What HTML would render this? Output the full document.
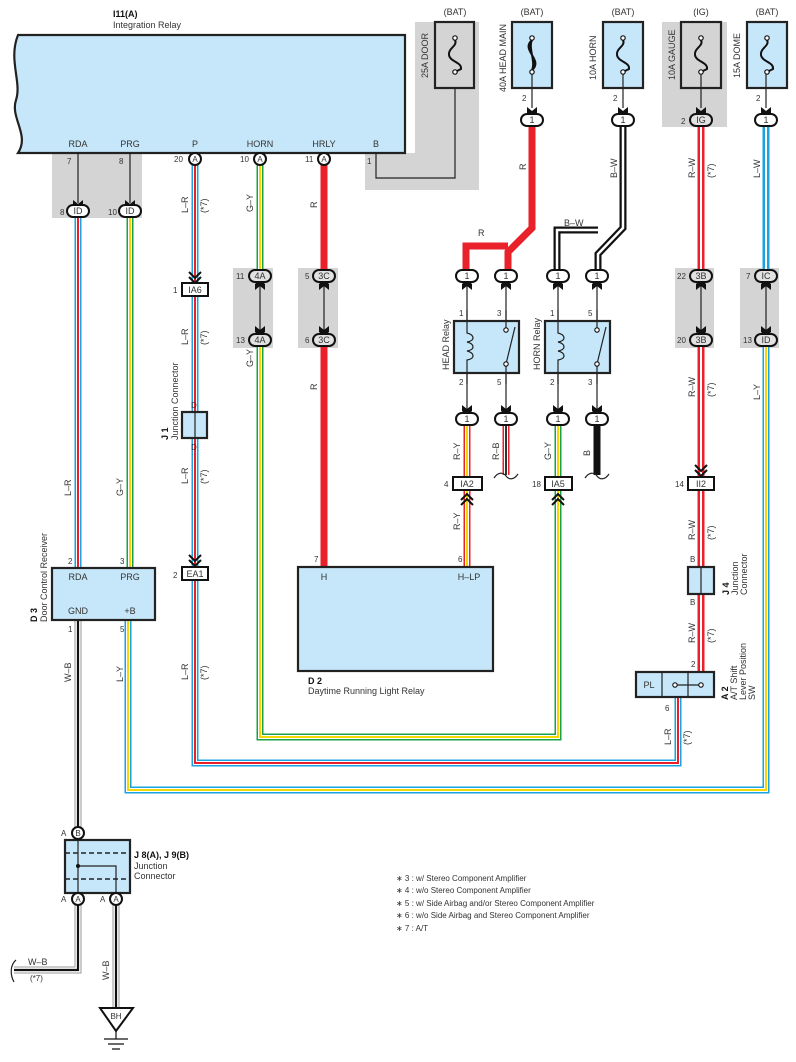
<!DOCTYPE html>
<html><head><meta charset="utf-8">
<style>
html,body{margin:0;padding:0;background:#fff;}
svg{display:block;}
text{font-family:"Liberation Sans",sans-serif;font-size:9px;fill:#333;}
.b{font-weight:bold;fill:#111;}
.s{font-size:8px;}
.box{fill:#c6e7f9;stroke:#222;stroke-width:2.2;}
.gbox{fill:#d4d4d4;stroke:#222;stroke-width:2.2;}
.gray{fill:#d4d4d4;}
.ov{fill:#fff;stroke:#111;stroke-width:2;}
.ovg{fill:#e2e2e2;stroke:#111;stroke-width:2;}
.thin{fill:none;stroke:#222;stroke-width:1.2;}
.f{fill:none;stroke-linejoin:miter;stroke-linecap:butt;}
</style></head><body>
<svg width="796" height="1062" viewBox="0 0 796 1062" xmlns="http://www.w3.org/2000/svg">
<defs>
<path id="p_rda" d="M78,218 V568"/>
<path id="p_prg" d="M130,218 V568"/>
<path id="p_p1" d="M195,165 V283"/>
<path id="p_p2" d="M195,296 V412"/>
<path id="p_p3" d="M195,438 V567"/>
<path id="p_p4" d="M195,580 V763 H678 V698"/>
<path id="p_h1" d="M260,165 V270"/>
<path id="p_h2" d="M260,346 V737 H558 V490"/>
<path id="p_gy2" d="M558,425 V477"/>
<path id="p_ry1" d="M467,425 V477"/>
<path id="p_ry2" d="M467,490 V567"/>
<path id="p_rb" d="M506,425 V475"/>
<path id="p_rw" d="M701,127 V270 M701,346 V477 M701,490 V567 M701,594 V671"/>
<path id="p_lw" d="M766,127 V270"/>
<path id="p_ly" d="M766,346 V790 H128 V620"/>
<path id="p_bw" d="M623,127 V228 L598,254 V270 M598,230 H557 V270"/>
<path id="p_wb" d="M78,620 V827 M78,905 V970 H14 M116,905 V1008"/>
</defs>

<rect class="gray" x="52" y="153" width="90" height="65"/>
<rect class="gray" x="415" y="22" width="64" height="168"/>
<rect class="gray" x="365" y="153" width="114" height="37"/>
<rect class="gray" x="662" y="22" width="65" height="105"/>
<rect class="gray" x="233" y="268" width="40" height="80"/>
<rect class="gray" x="298" y="268" width="40" height="80"/>
<rect class="gray" x="675" y="268" width="39" height="80"/>
<rect class="gray" x="740" y="268" width="39" height="80"/>

<text x="113" y="17" class="b">I11(A)</text>
<text x="113" y="28">Integration Relay</text>
<path class="box" d="M18,35 H405 V153 H18 C30,135 10,118 16,100 C22,82 8,60 18,35 Z"/>
<text x="78" y="147" text-anchor="middle">RDA</text>
<text x="130" y="147" text-anchor="middle">PRG</text>
<text x="195" y="147" text-anchor="middle">P</text>
<text x="260" y="147" text-anchor="middle">HORN</text>
<text x="324" y="147" text-anchor="middle">HRLY</text>
<text x="376" y="147" text-anchor="middle">B</text>

<path class="thin" d="M78,153 V203 M130,153 V203"/>
<path class="thin" d="M376,153 V178 H455 V72"/>
<text x="67" y="164" class="s">7</text>
<text x="119" y="164" class="s">8</text>
<text x="367" y="164" class="s">1</text>

<g class="f">
<use href="#p_rda" stroke="#1aa3e0" stroke-width="7"/><use href="#p_rda" stroke="#fff" stroke-width="4"/><use href="#p_rda" stroke="#e8212a" stroke-width="2"/>
<use href="#p_p1" stroke="#1aa3e0" stroke-width="7"/><use href="#p_p1" stroke="#fff" stroke-width="4"/><use href="#p_p1" stroke="#e8212a" stroke-width="2"/>
<use href="#p_p2" stroke="#1aa3e0" stroke-width="7"/><use href="#p_p2" stroke="#fff" stroke-width="4"/><use href="#p_p2" stroke="#e8212a" stroke-width="2"/>
<use href="#p_p3" stroke="#1aa3e0" stroke-width="7"/><use href="#p_p3" stroke="#fff" stroke-width="4"/><use href="#p_p3" stroke="#e8212a" stroke-width="2"/>
<use href="#p_p4" stroke="#1aa3e0" stroke-width="7"/><use href="#p_p4" stroke="#fff" stroke-width="4"/><use href="#p_p4" stroke="#e8212a" stroke-width="2"/>
<use href="#p_prg" stroke="#1aa04a" stroke-width="7"/><use href="#p_prg" stroke="#fff" stroke-width="4"/><use href="#p_prg" stroke="#f5d800" stroke-width="2"/>
<use href="#p_h1" stroke="#1aa04a" stroke-width="7"/><use href="#p_h1" stroke="#fff" stroke-width="4"/><use href="#p_h1" stroke="#f5d800" stroke-width="2"/>
<use href="#p_h2" stroke="#1aa04a" stroke-width="7"/><use href="#p_h2" stroke="#fff" stroke-width="4"/><use href="#p_h2" stroke="#f5d800" stroke-width="2"/>
<use href="#p_gy2" stroke="#1aa04a" stroke-width="7"/><use href="#p_gy2" stroke="#fff" stroke-width="4"/><use href="#p_gy2" stroke="#f5d800" stroke-width="2"/>
<use href="#p_ry1" stroke="#e8212a" stroke-width="7"/><use href="#p_ry1" stroke="#fff" stroke-width="4"/><use href="#p_ry1" stroke="#f5d800" stroke-width="2"/>
<use href="#p_ry2" stroke="#e8212a" stroke-width="7"/><use href="#p_ry2" stroke="#fff" stroke-width="4"/><use href="#p_ry2" stroke="#f5d800" stroke-width="2"/>
<use href="#p_rb" stroke="#e8212a" stroke-width="7"/><use href="#p_rb" stroke="#fff" stroke-width="4"/><use href="#p_rb" stroke="#333" stroke-width="2"/>
<use href="#p_rw" stroke="#e8212a" stroke-width="7"/><use href="#p_rw" stroke="#fff" stroke-width="2"/>
<use href="#p_lw" stroke="#1aa3e0" stroke-width="7"/><use href="#p_lw" stroke="#fff" stroke-width="2"/>
<use href="#p_ly" stroke="#1aa3e0" stroke-width="7"/><use href="#p_ly" stroke="#fff" stroke-width="4"/><use href="#p_ly" stroke="#f5d800" stroke-width="2"/>
<use href="#p_bw" stroke="#111" stroke-width="7"/><use href="#p_bw" stroke="#fff" stroke-width="2.5"/>
<use href="#p_wb" stroke="#999" stroke-width="7"/><use href="#p_wb" stroke="#fff" stroke-width="5"/><use href="#p_wb" stroke="#111" stroke-width="2.2"/>
<path d="M324,165 V270 M324,346 V568" stroke="#e8212a" stroke-width="7"/>
<path d="M532,127 V228 L508,252 V270 M508,246 H466 V270" stroke="#e8212a" stroke-width="7"/>
<path d="M597,425 V475" stroke="#111" stroke-width="7"/>
</g>

<path class="thin" d="M494,478 C498,472 503,472 506,476 C509,480 514,480 518,474" stroke-width="1.6"/>
<path class="thin" d="M585,478 C589,472 594,472 597,476 C600,480 605,480 609,474" stroke-width="1.6"/>
<path class="thin" d="M16,960 C10,965 10,975 14,982" stroke-width="1.6"/>

<g>
<text x="455" y="15" text-anchor="middle">(BAT)</text>
<text x="532" y="15" text-anchor="middle">(BAT)</text>
<text x="623" y="15" text-anchor="middle">(BAT)</text>
<text x="701" y="15" text-anchor="middle">(IG)</text>
<text x="767" y="15" text-anchor="middle">(BAT)</text>
<rect class="gbox" x="435" y="22" width="39" height="66"/>
<rect class="box" x="512" y="22" width="40" height="66"/>
<rect class="box" x="603" y="22" width="40" height="66"/>
<rect class="gbox" x="681" y="22" width="40" height="66"/>
<rect class="box" x="747" y="22" width="40" height="66"/>
<g fill="none" stroke="#111" stroke-width="2">
<path d="M455,40 C458,46 448,48 449,55 C450,62 462,62 461,69 L455,72"/>
<path d="M532,40 C524,48 540,62 532,70 M532,40 C528,48 536,62 532,70 M532,40 C520,50 544,60 532,70"/>
<path d="M623,40 C626,46 616,48 617,55 C618,62 630,62 629,69 L623,72"/>
<path d="M701,40 C704,46 694,48 695,55 C696,62 708,62 707,69 L701,72"/>
<path d="M767,40 C770,46 760,48 761,55 C762,62 774,62 773,69 L767,72"/>
</g>
<g fill="#fff" stroke="#111" stroke-width="1.2">
<circle cx="455" cy="38" r="2.2"/><circle cx="455" cy="72" r="2.2"/>
<circle cx="532" cy="38" r="2.2"/><circle cx="532" cy="72" r="2.2"/>
<circle cx="623" cy="38" r="2.2"/><circle cx="623" cy="72" r="2.2"/>
<circle cx="701" cy="38" r="2.2"/><circle cx="701" cy="72" r="2.2"/>
<circle cx="767" cy="38" r="2.2"/><circle cx="767" cy="72" r="2.2"/>
</g>
<path class="thin" d="M532,74 V108 M623,74 V108 M701,74 V108 M766,74 V108"/>
<text transform="translate(428,78) rotate(-90)">25A DOOR</text>
<text transform="translate(506,92) rotate(-90)">40A HEAD MAIN</text>
<text transform="translate(596,80) rotate(-90)">10A HORN</text>
<text transform="translate(675,80) rotate(-90)">10A GAUGE</text>
<text transform="translate(740,78) rotate(-90)">15A DOME</text>
<text x="522" y="101" class="s">2</text>
<text x="613" y="101" class="s">2</text>
<text x="756" y="101" class="s">2</text>
<text x="681" y="124" class="s">2</text>
</g>

<g fill="#111">
<path d="M73,200 L78,204 L83,200 L83,206 L78,211 L73,206Z"/>
<path d="M125,200 L130,204 L135,200 L135,206 L130,211 L125,206Z"/>
<path d="M527,107 L532,111 L537,107 L537,113 L532,118 L527,113Z"/>
<path d="M618,107 L623,111 L628,107 L628,113 L623,118 L618,113Z"/>
<path d="M696,107 L701,111 L706,107 L706,113 L701,118 L696,113Z"/>
<path d="M761,107 L766,111 L771,107 L771,113 L766,118 L761,113Z"/>
</g>

<g>
<rect class="ov" x="67" y="205" width="22" height="12" rx="6"/><text x="78" y="214" text-anchor="middle">ID</text>
<rect class="ov" x="119" y="205" width="22" height="12" rx="6"/><text x="130" y="214" text-anchor="middle">ID</text>
<text x="60" y="215" class="s">8</text><text x="108" y="215" class="s">10</text>
<rect class="ov" x="521" y="114" width="22" height="12" rx="6"/><text x="532" y="123" text-anchor="middle">1</text>
<rect class="ov" x="612" y="114" width="22" height="12" rx="6"/><text x="623" y="123" text-anchor="middle">1</text>
<rect class="ovg" x="690" y="114" width="22" height="12" rx="6"/><text x="701" y="123" text-anchor="middle">IG</text>
<rect class="ov" x="755" y="114" width="22" height="12" rx="6"/><text x="766" y="123" text-anchor="middle">1</text>
</g>

<circle class="ov" cx="195" cy="159" r="6"/><text x="195" y="162" text-anchor="middle" class="s">A</text>
<circle class="ov" cx="260" cy="159" r="6"/><text x="260" y="162" text-anchor="middle" class="s">A</text>
<circle class="ov" cx="324" cy="159" r="6"/><text x="324" y="162" text-anchor="middle" class="s">A</text>
<text x="174" y="162" class="s">20</text><text x="240" y="162" class="s">10</text><text x="305" y="162" class="s">11</text>

<path d="M189,272 L195,278 L201,272 M189,277 L195,283 L201,277" fill="none" stroke="#111" stroke-width="2"/>
<rect x="182" y="283" width="26" height="13" fill="#fff" stroke="#111" stroke-width="2"/>
<text x="195" y="293" text-anchor="middle">IA6</text><text x="173" y="293" class="s">1</text>

<g>
<path class="thin" d="M260,282 V334 M324,282 V334 M701,282 V334 M766,282 V334"/>
<g fill="#111">
<path d="M255,290 L260,286 L265,290 L265,284 L260,279 L255,284Z"/><path d="M255,326 L260,330 L265,326 L265,332 L260,337 L255,332Z"/>
<path d="M319,290 L324,286 L329,290 L329,284 L324,279 L319,284Z"/><path d="M319,326 L324,330 L329,326 L329,332 L324,337 L319,332Z"/>
<path d="M696,290 L701,286 L706,290 L706,284 L701,279 L696,284Z"/><path d="M696,326 L701,330 L706,326 L706,332 L701,337 L696,332Z"/>
<path d="M761,290 L766,286 L771,290 L771,284 L766,279 L761,284Z"/><path d="M761,326 L766,330 L771,326 L771,332 L766,337 L761,332Z"/>
</g>
<rect class="ovg" x="249" y="270" width="22" height="12" rx="6"/><text x="260" y="279" text-anchor="middle">4A</text>
<rect class="ovg" x="249" y="334" width="22" height="12" rx="6"/><text x="260" y="343" text-anchor="middle">4A</text>
<rect class="ovg" x="313" y="270" width="22" height="12" rx="6"/><text x="324" y="279" text-anchor="middle">3C</text>
<rect class="ovg" x="313" y="334" width="22" height="12" rx="6"/><text x="324" y="343" text-anchor="middle">3C</text>
<rect class="ovg" x="690" y="270" width="22" height="12" rx="6"/><text x="701" y="279" text-anchor="middle">3B</text>
<rect class="ovg" x="690" y="334" width="22" height="12" rx="6"/><text x="701" y="343" text-anchor="middle">3B</text>
<rect class="ovg" x="755" y="270" width="22" height="12" rx="6"/><text x="766" y="279" text-anchor="middle">IC</text>
<rect class="ovg" x="755" y="334" width="22" height="12" rx="6"/><text x="766" y="343" text-anchor="middle">ID</text>
<text x="236" y="279" class="s">11</text><text x="236" y="343" class="s">13</text>
<text x="305" y="279" class="s">5</text><text x="305" y="343" class="s">6</text>
<text x="677" y="279" class="s">22</text><text x="677" y="343" class="s">20</text>
<text x="746" y="279" class="s">7</text><text x="743" y="343" class="s">13</text>
</g>

<g>
<path class="thin" d="M467,282 V413 M506,282 V413 M558,282 V413 M597,282 V413"/>
<rect class="box" x="454" y="321" width="65" height="52"/>
<rect class="box" x="545" y="321" width="65" height="52"/>
<path class="thin" d="M467,310 V333 C475,335 475,341 467,342 C475,344 475,350 467,351 C475,353 475,359 467,360 V384"/>
<path class="thin" d="M558,310 V333 C566,335 566,341 558,342 C566,344 566,350 558,351 C566,353 566,359 558,360 V384"/>
<path class="thin" d="M506,310 V329 M506,365 V384 M506,364 L515,327 M597,310 V329 M597,365 V384 M597,364 L606,327"/>
<g fill="#fff" stroke="#111" stroke-width="1.1"><circle cx="506" cy="330" r="2.2"/><circle cx="506" cy="364" r="2.2"/><circle cx="597" cy="330" r="2.2"/><circle cx="597" cy="364" r="2.2"/></g>
<text transform="translate(449,370) rotate(-90)">HEAD Relay</text>
<text transform="translate(540,370) rotate(-90)">HORN Relay</text>
<text x="459" y="316" class="s">1</text><text x="497" y="316" class="s">3</text><text x="550" y="316" class="s">1</text><text x="588" y="316" class="s">5</text>
<text x="459" y="385" class="s">2</text><text x="497" y="385" class="s">5</text><text x="550" y="385" class="s">2</text><text x="588" y="385" class="s">3</text>
<g fill="#111">
<path d="M462,290 L467,286 L472,290 L472,284 L467,279 L462,284Z"/><path d="M501,290 L506,286 L511,290 L511,284 L506,279 L501,284Z"/>
<path d="M553,290 L558,286 L563,290 L563,284 L558,279 L553,284Z"/><path d="M592,290 L597,286 L602,290 L602,284 L597,279 L592,284Z"/>
<path d="M462,405 L467,409 L472,405 L472,411 L467,416 L462,411Z"/><path d="M501,405 L506,409 L511,405 L511,411 L506,416 L501,411Z"/>
<path d="M553,405 L558,409 L563,405 L563,411 L558,416 L553,411Z"/><path d="M592,405 L597,409 L602,405 L602,411 L597,416 L592,411Z"/>
</g>
<rect class="ov" x="456" y="270" width="22" height="12" rx="6"/><text x="467" y="279" text-anchor="middle">1</text>
<rect class="ov" x="495" y="270" width="22" height="12" rx="6"/><text x="506" y="279" text-anchor="middle">1</text>
<rect class="ov" x="547" y="270" width="22" height="12" rx="6"/><text x="558" y="279" text-anchor="middle">1</text>
<rect class="ov" x="586" y="270" width="22" height="12" rx="6"/><text x="597" y="279" text-anchor="middle">1</text>
<rect class="ov" x="456" y="413" width="22" height="12" rx="6"/><text x="467" y="422" text-anchor="middle">1</text>
<rect class="ov" x="495" y="413" width="22" height="12" rx="6"/><text x="506" y="422" text-anchor="middle">1</text>
<rect class="ov" x="547" y="413" width="22" height="12" rx="6"/><text x="558" y="422" text-anchor="middle">1</text>
<rect class="ov" x="586" y="413" width="22" height="12" rx="6"/><text x="597" y="422" text-anchor="middle">1</text>
</g>

<rect x="453" y="477" width="29" height="13" fill="#fff" stroke="#111" stroke-width="2"/><text x="467" y="487" text-anchor="middle">IA2</text><text x="444" y="487" class="s">4</text>
<rect x="545" y="477" width="27" height="13" fill="#fff" stroke="#111" stroke-width="2"/><text x="558" y="487" text-anchor="middle">IA5</text><text x="532" y="487" class="s">18</text>
<path d="M461,500 L467,494 L473,500 M461,505 L467,499 L473,505" fill="none" stroke="#111" stroke-width="2"/>
<path d="M552,500 L558,494 L564,500 M552,505 L558,499 L564,505" fill="none" stroke="#111" stroke-width="2"/>
<rect x="688" y="477" width="26" height="13" fill="#fff" stroke="#111" stroke-width="2"/><text x="701" y="487" text-anchor="middle">II2</text><text x="675" y="487" class="s">14</text>
<path d="M695,465 L701,471 L707,465 M695,470 L701,476 L707,470" fill="none" stroke="#111" stroke-width="2"/>

<rect class="box" x="182" y="412" width="25" height="26"/>
<path class="thin" d="M195,412 V438"/>
<text x="191" y="408" class="s">D</text><text x="191" y="450" class="s">D</text>
<text transform="translate(168,440) rotate(-90)" class="b">J 1</text>
<text transform="translate(178,440) rotate(-90)">Junction Connector</text>

<path d="M189,555 L195,561 L201,555 M189,560 L195,566 L201,560" fill="none" stroke="#111" stroke-width="2"/>
<rect x="182" y="567" width="26" height="13" fill="#fff" stroke="#111" stroke-width="2"/><text x="195" y="577" text-anchor="middle">EA1</text><text x="173" y="578" class="s">2</text>

<rect class="box" x="52" y="568" width="103" height="52"/>
<text x="78" y="580" text-anchor="middle">RDA</text><text x="130" y="580" text-anchor="middle">PRG</text>
<text x="78" y="614" text-anchor="middle">GND</text><text x="130" y="614" text-anchor="middle">+B</text>
<text x="68" y="564" class="s">2</text><text x="120" y="564" class="s">3</text>
<text x="68" y="632" class="s">1</text><text x="120" y="632" class="s">5</text>
<text transform="translate(37,622) rotate(-90)" class="b">D 3</text>
<text transform="translate(47,622) rotate(-90)">Door Control Receiver</text>

<rect class="box" x="298" y="567" width="195" height="104"/>
<text x="324" y="580" text-anchor="middle">H</text><text x="469" y="580" text-anchor="middle">H–LP</text>
<text x="314" y="562" class="s">7</text><text x="458" y="562" class="s">6</text>
<text x="308" y="684" class="b">D 2</text>
<text x="308" y="694">Daytime Running Light Relay</text>

<rect class="box" x="688" y="567" width="26" height="27"/>
<path class="thin" d="M701,567 V594"/>
<text x="690" y="562" class="s">B</text><text x="690" y="605" class="s">B</text>
<text transform="translate(729,595) rotate(-90)" class="b">J 4</text>
<text transform="translate(738,595) rotate(-90)">Junction</text>
<text transform="translate(747,595) rotate(-90)">Connector</text>

<rect class="box" x="636" y="672" width="78" height="25"/>
<path class="thin" d="M662,672 V697 M688,672 V697 M675,685 H701"/>
<g fill="#fff" stroke="#111" stroke-width="1.1"><circle cx="675" cy="685" r="2.2"/><circle cx="701" cy="685" r="2.2"/></g>
<text x="649" y="688" text-anchor="middle">PL</text>
<text x="691" y="667" class="s">2</text><text x="665" y="711" class="s">6</text>
<text transform="translate(728,700) rotate(-90)" class="b">A 2</text>
<text transform="translate(737,700) rotate(-90)">A/T Shift</text>
<text transform="translate(746,700) rotate(-90)">Lever Position</text>
<text transform="translate(755,700) rotate(-90)">SW</text>

<rect class="box" x="65" y="840" width="65" height="53"/>
<path d="M65,853 H130 M65,879 H130" stroke="#222" stroke-width="1.5" stroke-dasharray="5,3"/>
<path class="thin" d="M78,840 V893 M78,866 H116 V893"/>
<circle cx="78" cy="866" r="2" fill="#111"/>
<circle class="ov" cx="78" cy="833" r="6"/><text x="78" y="836" text-anchor="middle" class="s">B</text>
<circle class="ov" cx="78" cy="899" r="6"/><text x="78" y="902" text-anchor="middle" class="s">A</text>
<circle class="ov" cx="116" cy="899" r="6"/><text x="116" y="902" text-anchor="middle" class="s">A</text>
<text x="61" y="836" class="s">A</text><text x="61" y="902" class="s">A</text><text x="100" y="902" class="s">A</text>
<text x="134" y="858" class="b">J 8(A), J 9(B)</text>
<text x="134" y="869">Junction</text>
<text x="134" y="879">Connector</text>

<path d="M100,1008 H133 L116,1031 Z" fill="#fff" stroke="#111" stroke-width="2"/>
<text x="116" y="1019" text-anchor="middle" class="s">BH</text>
<path d="M116,1031 V1039 M104,1039 H128 M108,1044 H124 M112,1049 H120" stroke="#111" stroke-width="1.2"/>

<g>
<text transform="translate(71,496) rotate(-90)">L–R</text>
<text transform="translate(123,496) rotate(-90)">G–Y</text>
<text transform="translate(188,213) rotate(-90)">L–R</text>
<text transform="translate(207,213) rotate(-90)">(*7)</text>
<text transform="translate(188,345) rotate(-90)">L–R</text>
<text transform="translate(207,345) rotate(-90)">(*7)</text>
<text transform="translate(188,484) rotate(-90)">L–R</text>
<text transform="translate(207,484) rotate(-90)">(*7)</text>
<text transform="translate(188,680) rotate(-90)">L–R</text>
<text transform="translate(207,680) rotate(-90)">(*7)</text>
<text transform="translate(253,212) rotate(-90)">G–Y</text>
<text transform="translate(253,367) rotate(-90)">G–Y</text>
<text transform="translate(317,208) rotate(-90)">R</text>
<text transform="translate(317,390) rotate(-90)">R</text>
<text x="478" y="236">R</text>
<text transform="translate(526,170) rotate(-90)">R</text>
<text x="564" y="226">B–W</text>
<text transform="translate(617,178) rotate(-90)">B–W</text>
<text transform="translate(695,178) rotate(-90)">R–W</text>
<text transform="translate(714,178) rotate(-90)">(*7)</text>
<text transform="translate(760,178) rotate(-90)">L–W</text>
<text transform="translate(460,460) rotate(-90)">R–Y</text>
<text transform="translate(460,530) rotate(-90)">R–Y</text>
<text transform="translate(499,460) rotate(-90)">R–B</text>
<text transform="translate(551,460) rotate(-90)">G–Y</text>
<text transform="translate(590,456) rotate(-90)">B</text>
<text transform="translate(695,397) rotate(-90)">R–W</text>
<text transform="translate(714,397) rotate(-90)">(*7)</text>
<text transform="translate(695,540) rotate(-90)">R–W</text>
<text transform="translate(714,540) rotate(-90)">(*7)</text>
<text transform="translate(695,643) rotate(-90)">R–W</text>
<text transform="translate(714,643) rotate(-90)">(*7)</text>
<text transform="translate(760,400) rotate(-90)">L–Y</text>
<text transform="translate(671,745) rotate(-90)">L–R</text>
<text transform="translate(690,745) rotate(-90)">(*7)</text>
<text transform="translate(71,682) rotate(-90)">W–B</text>
<text transform="translate(123,682) rotate(-90)">L–Y</text>
<text x="28" y="965">W–B</text>
<text x="30" y="981" class="s">(*7)</text>
<text transform="translate(109,980) rotate(-90)">W–B</text>
</g>

<g>
<text x="396" y="881" class="s">∗ 3 : w/ Stereo Component Amplifier</text>
<text x="396" y="893" class="s">∗ 4 : w/o Stereo Component Amplifier</text>
<text x="396" y="906" class="s">∗ 5 : w/ Side Airbag and/or Stereo Component Amplifier</text>
<text x="396" y="918" class="s">∗ 6 : w/o Side Airbag and Stereo Component Amplifier</text>
<text x="396" y="931" class="s">∗ 7 : A/T</text>
</g>
</svg>
</body></html>
